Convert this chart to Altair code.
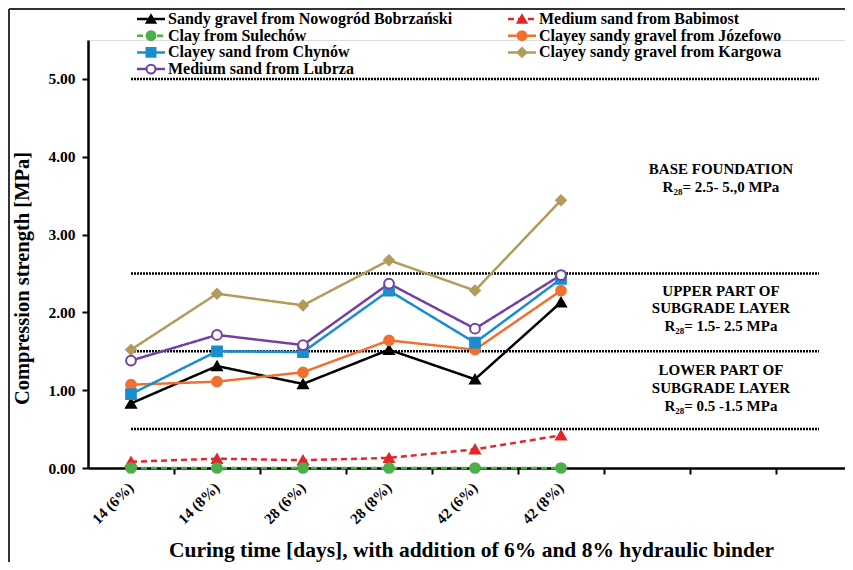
import altair as alt
import pandas as pd

# ---------------- data ----------------
categories = ["14 (6%)", "14 (8%)", "28 (6%)", "28 (8%)", "42 (6%)", "42 (8%)"]
series = [
    "Sandy gravel from Nowogród Bobrzański",
    "Medium sand from Babimost",
    "Clay from Sulechów",
    "Clayey sandy gravel from Józefowo",
    "Clayey sand from Chynów",
    "Clayey sandy gravel from Kargowa",
    "Medium sand from Lubrza",
]
nowogrod = [0.83, 1.31, 1.08, 1.52, 1.14, 2.13]
babimost = [0.08, 0.12, 0.10, 0.13, 0.24, 0.42]
sulechow = [0.00, 0.00, 0.00, 0.00, 0.00, 0.00]
jozefowo = [1.07, 1.11, 1.23, 1.64, 1.52, 2.28]
chynow = [0.95, 1.50, 1.49, 2.28, 1.61, 2.43]
kargowa = [1.52, 2.24, 2.09, 2.67, 2.28, 3.44]
lubrza = [1.38, 1.71, 1.58, 2.37, 1.79, 2.48]
values = [nowogrod, babimost, sulechow, jozefowo, chynow, kargowa, lubrza]

thresholds = [0.5, 1.5, 2.5, 5.0]
y_ticks = [0, 1, 2, 3, 4, 5]
ann_text = [
    "BASE FOUNDATION", "R₂₈= 2.5- 5.,0 MPa",
    "UPPER PART OF", "SUBGRADE LAYER", "R₂₈= 1.5- 2.5 MPa",
    "LOWER PART OF", "SUBGRADE LAYER", "R₂₈= 0.5 ‑1.5 MPa",
]
ann_y = [3.84, 3.61, 2.27, 2.05, 1.83, 1.26, 1.03, 0.80]

# ---------------- styles ----------------
colors = ["#000000", "#E3262B", "#4DAF4A", "#EE7130", "#1A8DCE", "#B39B5B", "#7440A0"]
fills = ["#000000", "#E3262B", "#4DAF4A", "#EE7130", "#1A8DCE", "#B39B5B", "#FFFFFF"]
shapes = ["triangle-up", "triangle-up", "circle", "circle", "square", "diamond", "circle"]
dashes = [[1, 0], [6, 4], [6, 4], [1, 0], [1, 0], [1, 0], [1, 0]]
FONT = "Liberation Serif"

rows = []
for s, vals in zip(series, values):
    for i, (c, v) in enumerate(zip(categories, vals)):
        rows.append({"series": s, "idx": i, "cat": c, "value": v})
df = pd.DataFrame(rows)

cat_df = pd.DataFrame({"idx": list(range(len(categories))), "cat": categories})
thr_df = pd.DataFrame({"thr": thresholds})
ann_df = pd.DataFrame({"text": ann_text, "y": ann_y})

leg_df = pd.DataFrame({
    "series": series,
    "col": [i % 2 for i in range(len(series))],
    "row": [i // 2 for i in range(len(series))],
})
leg_df["cx"] = 63 + leg_df["col"] * 371
leg_df["x0"] = leg_df["cx"] - 14
leg_df["x1"] = leg_df["cx"] + 14
leg_df["tx"] = leg_df["cx"] + 17
leg_df["cy"] = -21 + leg_df["row"] * 16.7

W, H = 757, 428
x_scale = alt.Scale(domain=[-0.5, -0.5 + W / 86.0], nice=False, zero=False)
y_scale = alt.Scale(domain=[0, 5.5], nice=False)

color_scale = alt.Scale(domain=series, range=colors)
fill_scale = alt.Scale(domain=series, range=fills)
shape_scale = alt.Scale(domain=series, range=shapes)
dash_scale = alt.Scale(domain=series, range=dashes)

x_axis = alt.Axis(
    title="Curing time [days], with addition of 6% and 8% hydraulic binder",
    values=[0.5, 1.5, 2.5, 3.5, 4.5, 5.5, 6.5, 7.5],
    labels=False, grid=False, tickSize=6, tickWidth=2, tickColor="black",
    domainColor="black", domainWidth=2.5,
    titleFont=FONT, titleFontSize=21.5, titleFontWeight="bold", titleColor="black",
    titleY=88, titleBaseline="alphabetic", titleX=383,
)
y_axis = alt.Axis(
    title="Compression strength [MPa]", values=y_ticks, format=".2f", grid=False,
    tickSize=6, tickWidth=2, tickColor="black", domainColor="black", domainWidth=2.5,
    labelFont=FONT, labelFontSize=15.5, labelFontWeight="bold", labelColor="black",
    labelPadding=7,
    titleFont=FONT, titleFontSize=20.5, titleFontWeight="bold", titleColor="black",
    titleX=-66, titleY=238, titleAngle=270, titleBaseline="middle", titleAlign="center",
)

base = alt.Chart(df)

thr_rules = alt.Chart(thr_df).mark_rule(color="black", strokeWidth=2.5, strokeDash=[2, 1]).encode(
    x=alt.X(datum=0, scale=x_scale, axis=x_axis), x2=alt.datum(8),
    y=alt.Y("thr:Q", scale=y_scale, axis=y_axis),
)

lines = base.mark_line(strokeWidth=2.5).encode(
    x=alt.X("idx:Q", scale=x_scale, axis=x_axis),
    y=alt.Y("value:Q", scale=y_scale, axis=y_axis),
    color=alt.Color("series:N", scale=color_scale, legend=None),
    strokeDash=alt.StrokeDash("series:N", scale=dash_scale, legend=None),
    detail="series:N",
)

points = base.mark_point(strokeWidth=2, opacity=1, size=95).encode(
    x=alt.X("idx:Q", scale=x_scale, axis=x_axis),
    y=alt.Y("value:Q", scale=y_scale, axis=y_axis),
    stroke=alt.Stroke("series:N", scale=color_scale, legend=None),
    fill=alt.Fill("series:N", scale=fill_scale, legend=None),
    shape=alt.Shape("series:N", scale=shape_scale, legend=None),
)

x_labels = alt.Chart(cat_df).mark_text(
    angle=315, align="right", baseline="middle", font=FONT, fontSize=15,
    fontWeight="bold", color="black",
).encode(
    x=alt.X("idx:Q", scale=x_scale, axis=x_axis),
    y=alt.Y(datum=-0.22, scale=y_scale, axis=y_axis),
    text="cat:N",
)

annots = alt.Chart(ann_df).mark_text(
    font=FONT, fontSize=15, fontWeight="bold", color="black", align="center", baseline="middle",
).encode(
    x=alt.X(datum=6.86, scale=x_scale, axis=x_axis),
    y=alt.Y("y:Q", scale=y_scale, axis=y_axis),
    text="text:N",
)

leg_lines = alt.Chart(leg_df).mark_rule(strokeWidth=2.5).encode(
    x=alt.X("x0:Q", scale=None, axis=None), x2="x1:Q",
    y=alt.Y("cy:Q", scale=None, axis=None),
    color=alt.Color("series:N", scale=color_scale, legend=None),
    strokeDash=alt.StrokeDash("series:N", scale=dash_scale, legend=None),
)
leg_pts = alt.Chart(leg_df).mark_point(strokeWidth=2, opacity=1, size=80).encode(
    x=alt.X("cx:Q", scale=None, axis=None),
    y=alt.Y("cy:Q", scale=None, axis=None),
    stroke=alt.Stroke("series:N", scale=color_scale, legend=None),
    fill=alt.Fill("series:N", scale=fill_scale, legend=None),
    shape=alt.Shape("series:N", scale=shape_scale, legend=None),
)
leg_text = alt.Chart(leg_df).mark_text(
    align="left", baseline="middle", font=FONT, fontSize=16, fontWeight="bold", color="black",
).encode(
    x=alt.X("tx:Q", scale=None, axis=None),
    y=alt.Y("cy:Q", scale=None, axis=None),
    text="series:N",
)

frame_left = alt.Chart(thr_df).mark_rule(color="#333333", strokeWidth=1.5).encode(
    x=alt.value(-79), y=alt.value(-31), y2=alt.value(H + 94),
)
frame_top = alt.Chart(thr_df).mark_rule(color="#333333", strokeWidth=1.5).encode(
    x=alt.value(-79), x2=alt.value(W), y=alt.value(-31),
)

chart = alt.layer(
    thr_rules, lines, points, x_labels, annots, leg_lines, leg_pts, leg_text, frame_left, frame_top,
).properties(
    width=W, height=H,
    autosize=alt.AutoSizeParams(type="none"),
    padding={"left": 80, "top": 32, "right": 0, "bottom": 94},
).configure_view(stroke=None).configure(background="white")

chart.save("out.html", embed_options={"renderer": "svg", "actions": False})
